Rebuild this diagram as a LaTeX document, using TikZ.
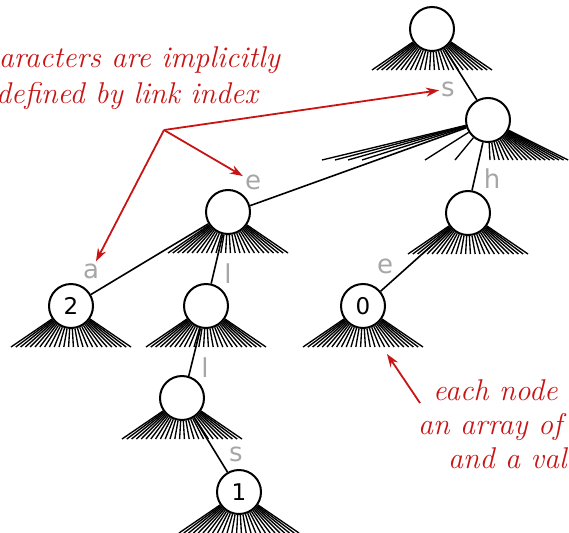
\documentclass[tikz,border=0pt]{standalone}
\usepackage{fontspec}
\newfontfamily\labelfont{DejaVu Sans}
\usetikzlibrary{calc,arrows.meta}
\definecolor{notered}{RGB}{200,20,20}
\newcommand{\drawfan}[1]{\foreach \k in {0,...,25} \draw[fanline] (#1) -- ($(#1)+({-60+4.8*\k},41)$);}

\begin{document}
\begin{tikzpicture}[x=1pt,y=-1pt,
	trienode/.style={circle,draw,line width=2pt,minimum size=44pt,inner sep=0pt,font=\labelfont\fontsize{23}{27}\selectfont},
	fanline/.style={line width=1.35pt},
	link/.style={line width=1.6pt},
	linklabel/.style={text=black!35,inner sep=2pt,font=\labelfont\fontsize{26}{30}\selectfont},
	note/.style={text=notered,inner sep=0pt,font=\itshape\fontsize{30}{35}\selectfont},
	pointer/.style={draw=notered,line width=1.8pt,-{Stealth[length=13pt,width=9pt]}}]
	\useasboundingbox (0,0) rectangle (569,532);
	\clip (0,0) rectangle (569,532);
	%    \draw[step=50,gray,very thin] (0,0) grid (569,532);
	\node[trienode] (root) at (432,29) {};
	\node[trienode] (s) at (488,120) {};
	\node[trienode] (e) at (228,212) {};
	\node[trienode] (h) at (468,213) {};
	\node[trienode] (n2) at (71,306) {2};
	\node[trienode] (l1) at (206,306) {};
	\node[trienode] (n0) at (363,306) {0};
	\node[trienode] (l2) at (182,398) {};
	\node[trienode] (n1) at (239,492) {1};
	
	\drawfan{root}
	\drawfan{e}
	\drawfan{h}
	\drawfan{n2}
	\drawfan{l1}
	\drawfan{n0}
	\drawfan{l2}
	\drawfan{n1}
	
	% the s node spreads its links wide
	\foreach \x in {322,335,348,362,425,455} \draw[fanline] (s) -- (\x,160);
	\foreach \k in {0,...,17} \draw[fanline] (s) -- ({490+4.6*\k},160);
	
	\draw[link] (root) -- (s.119);
	\draw[link] (s) -- (e.16);
	\draw[link] (s) -- (h.80);
	\draw[link] (e) -- (n2.30);
	\draw[link] (e) -- (l1.77);
	\draw[link] (h) -- (n0.40);
	\draw[link] (l1) -- (l2.73);
	\draw[link] (l2) -- (n1.120);
	
	\node[linklabel] (lbls) at (448,89) {s};
	\node[linklabel] (lble) at (253,182) {e};
	\node[linklabel] (lbla) at (91,271) {a};
	\node[linklabel] (lbll) at (228,274) {l};
	\node[linklabel] (lblh) at (492,179) {h};
	\node[linklabel] (lble2) at (385,266) {e};
	\node[linklabel] (lbll2) at (205,368) {l};
	\node[linklabel] (lbls2) at (236,454) {s};
	
	\node[note,anchor=base east] (char1) at (280,68) {characters are implicitly};
	\node[note,anchor=base east] (char2) at (258,103) {defined by link index};
	\node[note,anchor=base west] (each1) at (433,400) {each node has};
	\node[note,anchor=base west] (each2) at (418,434) {an array of links};
	\node[note,anchor=base west] (each3) at (448,468) {and a value};
	
	\coordinate (pivot) at (164,130);
	\coordinate (tail) at (420,403);
	\coordinate (tip) at (387,354);
	\draw[pointer] (pivot) -- (lbls);
	\draw[pointer] (pivot) -- (lble);
	\draw[pointer] (pivot) -- (lbla);
	\draw[pointer] (tail) -- (tip);
\end{tikzpicture}
\end{document}
